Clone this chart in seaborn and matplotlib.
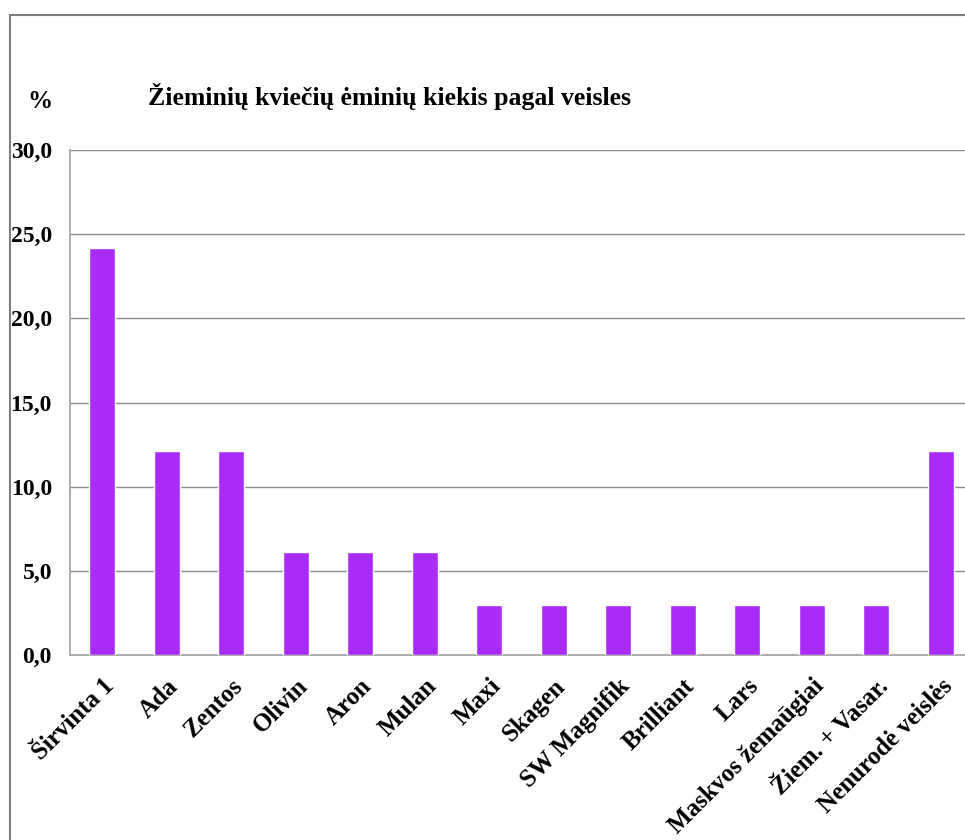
import matplotlib
matplotlib.use('Agg')
import matplotlib.pyplot as plt
import seaborn as sns
import pandas as pd
import numpy as np
from matplotlib.patches import Rectangle
from matplotlib.ticker import FuncFormatter, FixedLocator

# data
varieties = ['Širvinta 1', 'Ada', 'Zentos', 'Olivin', 'Aron', 'Mulan', 'Maxi',
             'Skagen', 'SW Magnifik', 'Brilliant', 'Lars', 'Maskvos žemaūgiai',
             'Žiem. + Vasar.', 'Nenurodė veislės']
shares = [24.2, 12.1, 12.1, 6.1, 6.1, 6.1, 3.0, 3.0, 3.0, 3.0, 3.0, 3.0, 3.0, 12.1]
y_ticks = [0, 5, 10, 15, 20, 25, 30]

df = pd.DataFrame({'veisle': varieties, 'proc': shares})

sns.set_style('white')
plt.rcParams['font.family'] = ['Liberation Serif', 'DejaVu Serif']
plt.rcParams['font.weight'] = 'bold'
plt.rcParams['text.color'] = 'black'
plt.rcParams['xtick.labelcolor'] = 'black'
plt.rcParams['ytick.labelcolor'] = 'black'

fig = plt.figure(figsize=(9.65, 8.4), dpi=100)
W, H = 965, 840
# frame of the chart area (cut off at right and bottom)
fig.patches.append(Rectangle((10 / W, -0.1), 1.2, (H - 15) / H + 0.1,
                             transform=fig.transFigure, fill=False,
                             edgecolor='#808080', linewidth=1.5))

ax = fig.add_axes([70 / W, (H - 655) / H, (973 - 70) / W, (655 - 150) / H])
sns.barplot(data=df, x='veisle', y='proc', color='#a92bf6', width=0.4,
            saturation=1, ax=ax, zorder=3)

ax.set_xlim(-0.5, len(varieties) - 0.5)
ax.set_ylim(0, 30)
ax.yaxis.set_major_locator(FixedLocator(y_ticks))
ax.yaxis.set_major_formatter(FuncFormatter(lambda v, p: f'{v:.1f}'.replace('.', ',')))
ax.grid(axis='y', color='#8c8c8c', linewidth=1, zorder=0)
ax.set_xlabel('')
ax.set_ylabel('')

for s in ['top', 'right']:
    ax.spines[s].set_visible(False)
for s in ['left', 'bottom']:
    ax.spines[s].set_color('#a0a0a0')
    ax.spines[s].set_linewidth(1.2)

ax.tick_params(axis='y', length=7, width=1, color='#a0a0a0', labelsize=17, pad=6)
ax.tick_params(axis='x', which='major', length=0, labelsize=18, pad=14)
ax.set_xticks(np.arange(-0.5, len(varieties), 1), minor=True)
ax.tick_params(axis='x', which='minor', length=7, width=1, color='#a0a0a0')
ax.set_xticklabels(varieties, rotation=45, ha='right', va='top',
                   rotation_mode='anchor', fontweight='bold')
for lab in ax.get_yticklabels():
    lab.set_fontweight('bold')

fig.text(40 / W, 1 - 101 / H, '%', fontsize=18, fontweight='bold',
         ha='center', va='center')
fig.text(148 / W, 1 - 97 / H, 'Žieminių kviečių ėminių kiekis pagal veisles',
         fontsize=18.5, fontweight='bold', ha='left', va='center')

fig.savefig('out.png', dpi=100)
